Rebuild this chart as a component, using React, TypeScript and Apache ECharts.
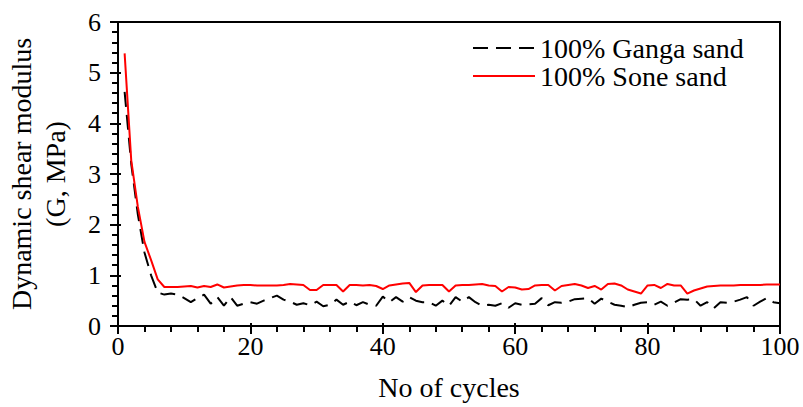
import React, { useEffect, useRef } from "react";
import * as echarts from "echarts";

const soneSand: number[] = [
  5.38, 3.27, 2.35, 1.66, 1.3, 0.92, 0.77, 0.77, 0.77, 0.78,
  0.79, 0.76, 0.79, 0.77, 0.82, 0.76, 0.78, 0.8, 0.81, 0.81,
  0.8, 0.8, 0.8, 0.8, 0.81, 0.83, 0.82, 0.81, 0.71, 0.71,
  0.81, 0.81, 0.81, 0.68, 0.81, 0.81, 0.8, 0.81, 0.79, 0.73,
  0.8, 0.82, 0.84, 0.85, 0.67, 0.8, 0.81, 0.81, 0.81, 0.68,
  0.8, 0.81, 0.81, 0.82, 0.83, 0.8, 0.79, 0.68, 0.77, 0.76,
  0.72, 0.73, 0.8, 0.81, 0.81, 0.7, 0.79, 0.81, 0.83, 0.8,
  0.75, 0.79, 0.72, 0.83, 0.84, 0.8, 0.72, 0.68, 0.64, 0.8,
  0.81, 0.75, 0.83, 0.8, 0.8, 0.64, 0.7, 0.74, 0.78, 0.79,
  0.8, 0.8, 0.8, 0.81, 0.81, 0.81, 0.81, 0.82, 0.82, 0.82,
];

const gangaSand: number[] = [
  4.62, 3.2, 2.2, 1.45, 1.0, 0.66, 0.62, 0.64, 0.62, 0.55,
  0.47, 0.55, 0.62, 0.44, 0.57, 0.4, 0.57, 0.4, 0.44, 0.47,
  0.44, 0.5, 0.55, 0.6, 0.52, 0.48, 0.42, 0.45, 0.41, 0.48,
  0.39, 0.42, 0.52, 0.42, 0.48, 0.41, 0.47, 0.42, 0.4, 0.58,
  0.47, 0.57, 0.48, 0.57, 0.5, 0.47, 0.47, 0.4, 0.5, 0.4,
  0.57, 0.48, 0.57, 0.47, 0.4, 0.42, 0.4, 0.45, 0.36, 0.45,
  0.42, 0.43, 0.44, 0.55, 0.41, 0.47, 0.46, 0.48, 0.53, 0.54,
  0.55, 0.44, 0.54, 0.48, 0.42, 0.4, 0.37, 0.42, 0.46, 0.47,
  0.42, 0.48, 0.4, 0.46, 0.53, 0.52, 0.53, 0.4, 0.47, 0.35,
  0.47, 0.46, 0.48, 0.52, 0.57, 0.4, 0.48, 0.55, 0.47, 0.45,
];

const seriesNames = ["100% Ganga sand", "100% Sone sand"];
const xTitle = "No of cycles";
const yTitle = "Dynamic shear modulus\n(G, MPa)";

const FONT = "Liberation Serif";

export default function App() {
  const ref = useRef<HTMLDivElement>(null);
  useEffect(() => {
    if (!ref.current) return;
    const chart = echarts.init(ref.current, undefined, { renderer: "svg" });
    const toPairs = (arr: number[]) => arr.map((v, i) => [i + 1, v]);
    chart.setOption({
      animation: false,
      backgroundColor: "#fff",
      grid: {
        left: 118,
        right: 23,
        top: 22,
        bottom: 81,
        show: true,
        borderColor: "#000",
        borderWidth: 2,
        containLabel: false,
        outerBoundsMode: "none",
      },
      legend: {
        orient: "vertical",
        left: 467,
        top: 29,
        itemWidth: 62,
        itemHeight: 14,
        itemGap: 0,
        itemStyle: { opacity: 0, borderWidth: 0 },
        textStyle: { fontFamily: FONT, fontSize: 28, color: "#000", lineHeight: 28 },
        data: seriesNames,
      },
      xAxis: [
        {
          type: "value",
          position: "bottom",
          min: 0,
          max: 100,
          interval: 20,
          name: xTitle,
          nameLocation: "middle",
          nameGap: 47,
          nameTextStyle: { fontFamily: FONT, fontSize: 28, color: "#000" },
          axisLine: { show: true, lineStyle: { color: "#000", width: 2 } },
          axisTick: { show: true, inside: false, length: 8, lineStyle: { color: "#000", width: 2 } },
          minorTick: { show: true, splitNumber: 5, length: 6, lineStyle: { color: "#000", width: 2 } },
          axisLabel: { fontFamily: FONT, fontSize: 26, color: "#000", margin: 7 },
          splitLine: { show: false },
        },
        {
          type: "value",
          position: "bottom",
          offset: 0,
          min: 0,
          max: 100,
          interval: 20,
          axisLine: { show: false },
          axisTick: { show: true, inside: true, length: 3, lineStyle: { color: "#000", width: 2 } },
          axisLabel: { show: false },
          splitLine: { show: false },
        },
      ],
      yAxis: [
        {
          type: "value",
          position: "left",
          min: 0,
          max: 6,
          interval: 1,
          name: yTitle,
          nameLocation: "middle",
          nameRotate: 90,
          nameGap: 46,
          nameTextStyle: { fontFamily: FONT, fontSize: 28, color: "#000", lineHeight: 34, align: "center" },
          axisLine: { show: true, lineStyle: { color: "#000", width: 2 } },
          axisTick: { show: true, inside: false, length: 8, lineStyle: { color: "#000", width: 2 } },
          minorTick: { show: true, splitNumber: 5, length: 6, lineStyle: { color: "#000", width: 2 } },
          axisLabel: { fontFamily: FONT, fontSize: 26, color: "#000", margin: 17 },
          splitLine: { show: false },
        },
        {
          type: "value",
          position: "left",
          offset: 0,
          min: 0,
          max: 6,
          interval: 1,
          axisLine: { show: false },
          axisTick: { show: true, inside: true, length: 3, lineStyle: { color: "#000", width: 2 } },
          axisLabel: { show: false },
          splitLine: { show: false },
        },
      ],
      series: [
        {
          name: seriesNames[0],
          type: "line",
          xAxisIndex: 0,
          yAxisIndex: 0,
          data: toPairs(gangaSand),
          symbol: "none",
          lineStyle: { color: "#000", width: 2, type: [15, 8] },
          itemStyle: { color: "#000" },
        },
        {
          name: seriesNames[1],
          type: "line",
          xAxisIndex: 0,
          yAxisIndex: 0,
          data: toPairs(soneSand),
          symbol: "none",
          lineStyle: { color: "#ff0000", width: 2 },
          itemStyle: { color: "#ff0000" },
        },
      ],
    });
    return () => chart.dispose();
  }, []);
  return <div ref={ref} style={{ width: 803, height: 407, position: "absolute", left: 0, top: 0 }} />;
}
